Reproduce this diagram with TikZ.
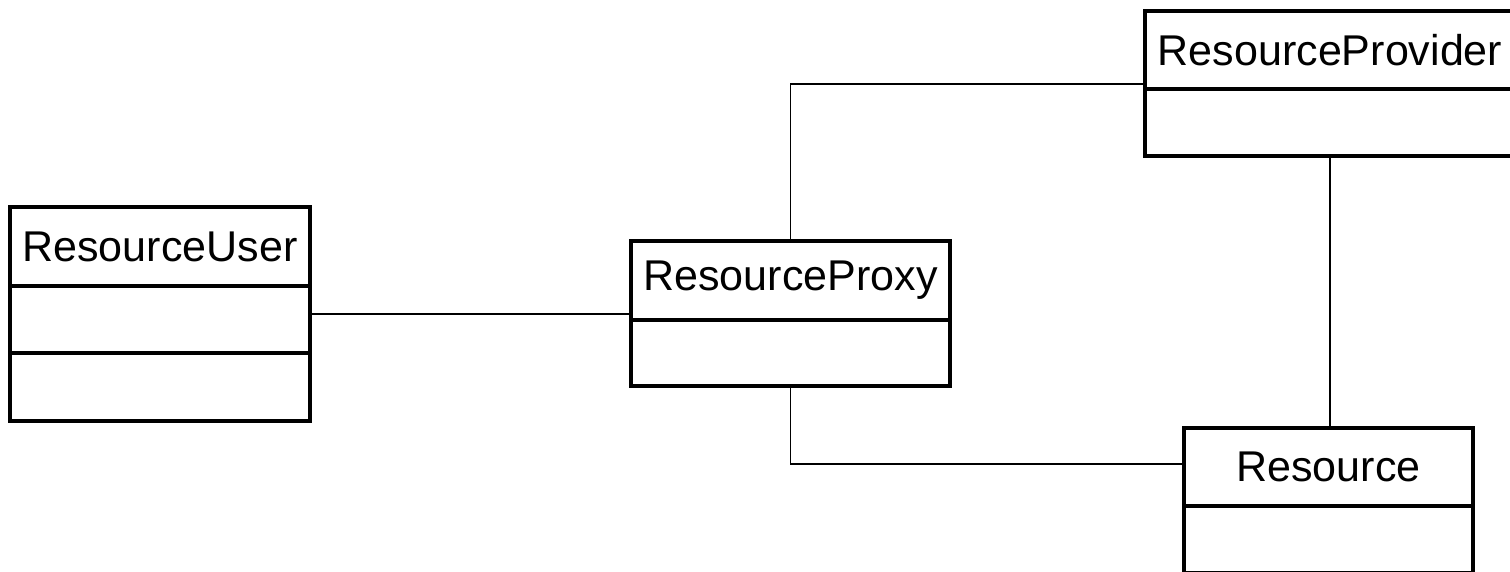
\documentclass[tikz,border=0pt]{standalone}
\usepackage{fontspec}
\setmainfont{Liberation Sans}
\usepackage{tikz}
\usetikzlibrary{
	calc,
	positioning,
}
\tikzset{class box/.style={draw,rectangle,inner sep=0mm,outer sep=0pt,line width=1.8pt,font=\fontsize{24.5}{29}\selectfont,}}
\tikzset{part/.style={class box,below=0pt of #1,}}
\tikzset{assoc/.style={line width=1.1pt,}}

\begin{document}
\begin{tikzpicture}[x=0.02cm,y=-0.02cm]
\useasboundingbox (0,0) rectangle (1510,571);

\node[class box,minimum width=6cm,minimum height=1.58cm](user) at(160,246.5) {ResourceUser};
\node[part=user,minimum width=6cm,minimum height=1.34cm](useratt) {};
\node[part=useratt,minimum width=6cm,minimum height=1.36cm](userops) {};

\node[class box,minimum width=6.38cm,minimum height=1.58cm](proxy) at(790.5,280.5) {ResourceProxy};
\node[part=proxy,minimum width=6.38cm,minimum height=1.32cm](proxyatt) {};

\node[class box,minimum width=7.4cm,minimum height=1.56cm](provider) at(1330,50) {ResourceProvider};
\node[part=provider,minimum width=7.4cm,minimum height=1.34cm](provideratt) {};

\node[class box,minimum width=5.78cm,minimum height=1.56cm](res) at(1328.5,467) {Resource};
\node[part=res,minimum width=5.78cm,minimum height=1.34cm](resatt) {};

\coordinate(u) at([yshift=0.11cm]useratt.east);
\draw[assoc] (u) -- (u -| proxy.west);
\draw[assoc] (proxy.north) |- ([yshift=0.1cm]provideratt.north west);
\draw[assoc] (provideratt.south) -- (provideratt.south |- res.north);
\draw[assoc] (proxyatt.south) |- ([yshift=0.06cm]res.west);

\end{tikzpicture}
\end{document}
